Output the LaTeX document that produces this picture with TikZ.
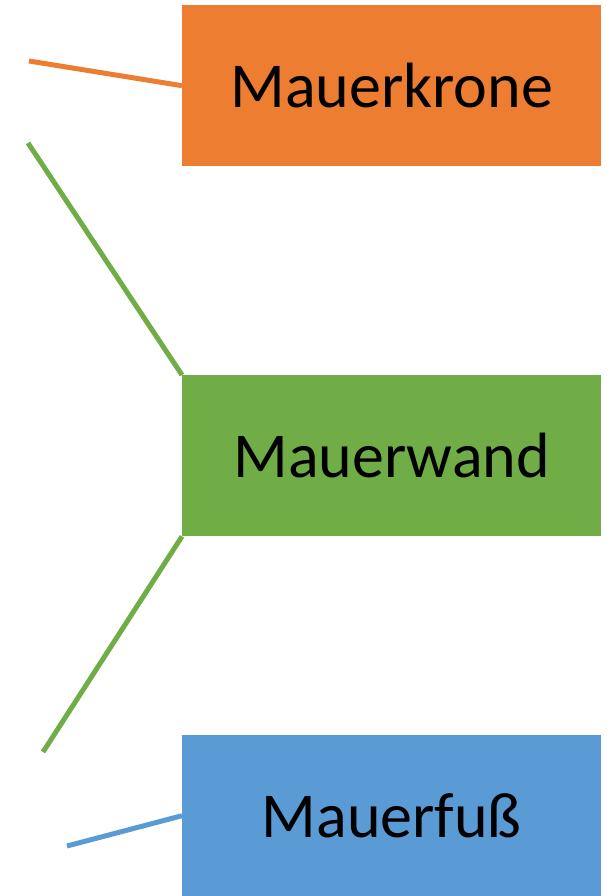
\documentclass[tikz,border=0pt]{standalone}
\usepackage{fontspec}
\setmainfont{Carlito}
\usepackage{tikz}
\usetikzlibrary{positioning}
\usetikzlibrary{calc}

\definecolor{kronecol}{HTML}{ED7D31}
\definecolor{wandcol}{HTML}{70AD47}
\definecolor{fusscol}{HTML}{5B9BD5}

\begin{document}
\begin{tikzpicture}[x=1pt, y=-1pt,
  part/.style={anchor=north west, minimum width=419pt, minimum height=161pt, inner sep=0pt, font=\fontsize{64}{76}\selectfont},
  lead/.style={line width=5pt}]

	\useasboundingbox (0,0) rectangle (606,896);

	\def\bx{182};
	% boxes
	\node[part, fill=kronecol] (krone) at (\bx, 5) {Mauerkrone};
	\node[part, fill=wandcol] (wand) at (\bx, 375) {Mauerwand};
	\node[part, fill=fusscol] (fuss) at (\bx, 735) {Mauerfuß};

	% free ends of the leads
	\coordinate (k1) at (29, 61);
	\coordinate (w1) at (28, 143);
	\coordinate (w2) at (43, 752);
	\coordinate (f1) at (67, 846);

	\draw[lead, kronecol] (k1) -- (krone.west);
	\draw[lead, wandcol] (w1) -- (wand.north west);
	\draw[lead, wandcol] (wand.south west) -- (w2);
	\draw[lead, fusscol] (f1) -- (fuss.west);

\end{tikzpicture}
\end{document}
